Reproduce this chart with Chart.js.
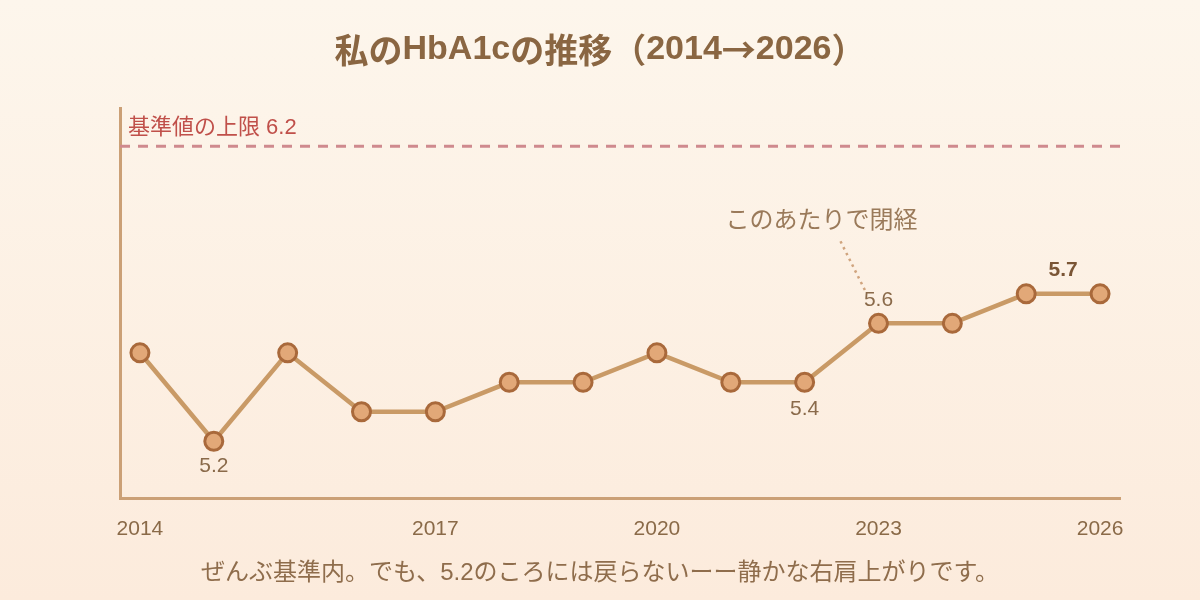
<!DOCTYPE html>
<html>
<head>
<meta charset="utf-8">
<script src="https://cdn.jsdelivr.net/npm/chart.js@4"></script>
<style>
  html, body { margin: 0; padding: 0; }
  body { width: 1200px; height: 600px; overflow: hidden; }
  #wrap { width: 1200px; height: 600px; position: relative; }
</style>
</head>
<body>
<div id="wrap"><canvas id="chart" width="1200" height="600"></canvas></div>
<script>
// 14回分の測定値
const hba1c = [5.5, 5.2, 5.5, 5.3, 5.3, 5.4, 5.4, 5.5, 5.4, 5.4, 5.6, 5.6, 5.7, 5.7];
const tickIndex = [0, 4, 7, 10, 13];
const tickLabels = ['2014', '2017', '2020', '2023', '2026'];
const upperLimit = 6.2;

const FONT = '"Liberation Sans", "Noto Sans CJK JP", sans-serif';
const CJK = '"Noto Sans CJK JP", "Liberation Sans", sans-serif';

const decor = {
    id: 'decor',
    beforeDraw(chart) {
        const ctx = chart.ctx;
        const g = ctx.createLinearGradient(0, 0, 0, chart.height);
        g.addColorStop(0, '#fdf6ec');
        g.addColorStop(1, '#fcebdc');
        ctx.save();
        ctx.fillStyle = g;
        ctx.fillRect(0, 0, chart.width, chart.height);

        // タイトル（矢印と括弧は全角で）
        ctx.fillStyle = '#8a6642';
        ctx.textBaseline = 'middle';
        const parts = [
            ['私の', CJK], ['HbA1c', FONT], ['の推移（', CJK], ['2014', FONT],
            ['→', CJK], ['2026', FONT], ['）', CJK]
        ];
        let total = 0;
        parts.forEach(p => { ctx.font = 'bold 34px ' + p[1]; total += ctx.measureText(p[0]).width; });
        let tx = 600 - total / 2;
        ctx.textAlign = 'left';
        parts.forEach(p => {
            ctx.font = 'bold 34px ' + p[1];
            ctx.fillText(p[0], tx, 50);
            tx += ctx.measureText(p[0]).width;
        });

        ctx.textAlign = 'center';
        ctx.fillStyle = '#8f6d4c';
        ctx.font = '24px ' + FONT;
        ctx.fillText('ぜんぶ基準内。でも、5.2のころには戻らないーー静かな右肩上がりです。', 600, 573);
        ctx.restore();
    },
    beforeDatasetsDraw(chart) {
        const ctx = chart.ctx;
        const x = chart.scales.x, y = chart.scales.y;
        const area = chart.chartArea;
        const ly = y.getPixelForValue(upperLimit);
        ctx.save();
        ctx.strokeStyle = '#cf8a8e';
        ctx.lineWidth = 3;
        ctx.setLineDash([10, 8]);
        ctx.beginPath();
        ctx.moveTo(area.left, ly);
        ctx.lineTo(area.right, ly);
        ctx.stroke();
        ctx.setLineDash([]);
        ctx.fillStyle = '#c0504a';
        ctx.font = '22px ' + FONT;
        ctx.textAlign = 'left';
        ctx.textBaseline = 'middle';
        ctx.fillText('基準値の上限 ' + upperLimit, area.left + 8, ly - 18);

        // 閉経の注記
        const px = x.getPixelForValue(10);
        const py = y.getPixelForValue(hba1c[10]);
        ctx.strokeStyle = '#d0a47e';
        ctx.lineWidth = 2.5;
        ctx.setLineDash([2.5, 4]);
        ctx.beginPath();
        ctx.moveTo(px - 38, py - 82);
        ctx.lineTo(px - 13, py - 32);
        ctx.stroke();
        ctx.setLineDash([]);
        ctx.fillStyle = '#9a7a5a';
        ctx.font = '24px ' + FONT;
        ctx.textAlign = 'center';
        ctx.fillText('このあたりで閉経', px - 57, py - 102);
        ctx.restore();
    },
    afterDatasetsDraw(chart) {
        const ctx = chart.ctx;
        const x = chart.scales.x, y = chart.scales.y;
        ctx.save();
        ctx.textAlign = 'center';
        ctx.textBaseline = 'middle';
        ctx.fillStyle = '#8a6a4a';
        ctx.font = '21px ' + FONT;
        [[1, 25], [9, 27], [10, -23]].forEach(([i, dy]) => {
            ctx.fillText(hba1c[i].toFixed(1),
                x.getPixelForValue(i),
                y.getPixelForValue(hba1c[i]) + dy);
        });
        ctx.fillStyle = '#7a5535';
        ctx.font = 'bold 21px ' + FONT;
        ctx.fillText(hba1c[12].toFixed(1),
            (x.getPixelForValue(12) + x.getPixelForValue(13)) / 2,
            y.getPixelForValue(hba1c[12]) - 24);
        ctx.restore();
    }
};

new Chart(document.getElementById('chart'), {
    type: 'line',
    data: {
        datasets: [{
            data: hba1c.map((v, i) => ({ x: i, y: v })),
            borderColor: '#c99a66',
            borderWidth: 4.5,
            pointRadius: 9,
            pointBackgroundColor: '#e2a878',
            pointBorderColor: '#a9693b',
            pointBorderWidth: 3,
            tension: 0,
            clip: false
        }]
    },
    options: {
        responsive: false,
        animation: false,
        events: [],
        layout: { padding: { left: 120, right: 80, top: 108, bottom: 40 } },
        plugins: {
            legend: { display: false },
            tooltip: { enabled: false }
        },
        scales: {
            x: {
                type: 'linear',
                min: -0.27,
                max: 13.27,
                afterBuildTicks(axis) {
                    axis.ticks = tickIndex.map(v => ({ value: v }));
                },
                ticks: {
                    autoSkip: false,
                    maxRotation: 0,
                    padding: 18,
                    color: '#8a6a48',
                    font: { family: FONT, size: 21 },
                    callback: (v) => tickLabels[tickIndex.indexOf(v)]
                },
                grid: { display: false, drawTicks: false },
                border: { color: '#cba076', width: 3 }
            },
            y: {
                min: 5.005,
                max: 6.33,
                ticks: { display: false },
                grid: { display: false, drawTicks: false },
                border: { color: '#cba076', width: 3 }
            }
        }
    },
    plugins: [decor]
});
</script>
</body>
</html>
